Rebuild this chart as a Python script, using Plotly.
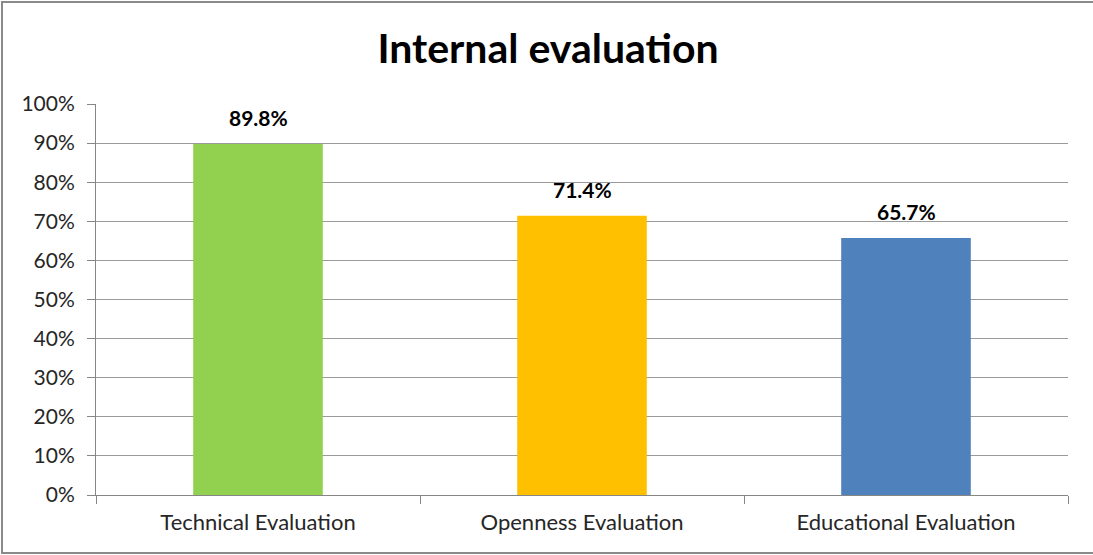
import plotly.graph_objects as go

categories = ["Technical Evaluation", "Openness Evaluation", "Educational Evaluation"]
scores = [89.8, 71.4, 65.7]
bar_colors = ["#92D050", "#FFC000", "#4F81BD"]
y_ticks = [0, 10, 20, 30, 40, 50, 60, 70, 80, 90, 100]
y_tick_labels = [f"{v}%" for v in y_ticks]
score_labels = [f"{v:.1f}%" for v in scores]

W, H = 1093, 555
L, R, T, B = 96, 25, 104, 60
pw, ph = W - L - R, H - T - B

FONT = "Lato, 'Open Sans', sans-serif"

fig = go.Figure(
    go.Bar(
        x=categories,
        y=scores,
        marker=dict(color=bar_colors, line=dict(width=0)),
        width=0.4,
        hoverinfo="x+y",
    )
)

# value labels above each bar
for cat, val, lab in zip(categories, scores, score_labels):
    fig.add_annotation(
        x=cat,
        y=val,
        text=f"<b>{lab}</b>",
        showarrow=False,
        yanchor="bottom",
        yshift=12,
        font=dict(family=FONT, size=21, color="#000000"),
    )

fig.update_layout(
    width=W,
    height=H,
    margin=dict(l=L, r=R, t=T, b=B),
    paper_bgcolor="white",
    plot_bgcolor="white",
    showlegend=False,
    title=dict(
        text="<b>Internal evaluation</b>",
        x=548 / W,
        xanchor="center",
        y=1 - 49 / H,
        yanchor="middle",
        font=dict(family=FONT, size=41, color="#000000"),
    ),
    xaxis=dict(
        showgrid=False,
        showline=True,
        linecolor="#868686",
        linewidth=1,
        ticks="outside",
        ticklen=8,
        tickcolor="#868686",
        tickson="boundaries",
        ticklabelstandoff=8,
        tickfont=dict(family=FONT, size=22, color="#262626"),
        range=[-0.5, 2.5],
    ),
    yaxis=dict(
        range=[0, 100],
        tickvals=y_ticks,
        ticktext=y_tick_labels,
        showgrid=True,
        gridcolor="#9A9A9A",
        gridwidth=1,
        showline=True,
        linecolor="#868686",
        ticks="outside",
        ticklen=8,
        tickcolor="#868686",
        ticklabelstandoff=8,
        zeroline=False,
        tickfont=dict(family=FONT, size=21, color="#262626"),
    ),
    shapes=[
        dict(
            type="rect",
            xref="paper",
            yref="paper",
            x0=(2 - L) / pw,
            x1=(1110 - L) / pw,
            y0=(H - 553 - B) / ph,
            y1=(H - 2 - B) / ph,
            line=dict(color="#8A8A8A", width=2),
            fillcolor="rgba(0,0,0,0)",
            layer="below",
        )
    ],
)

fig.write_html("out.html")
